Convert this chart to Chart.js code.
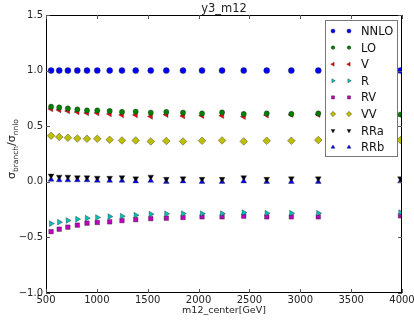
<!DOCTYPE html>
<html>
<head>
<meta charset="utf-8">
<script src="https://cdn.jsdelivr.net/npm/chart.js@4.4.0/dist/chart.umd.min.js"></script>
<style>
  body { margin: 0; background: #fff; }
  #wrap { width: 414px; height: 322px; position: relative; }
</style>
</head>
<body>
<div id="wrap"><canvas id="ratioChart"></canvas></div>
<script>
// m12 bin centres [GeV]
const m12 = [550, 630, 715, 808, 903, 1004, 1126, 1247, 1382, 1530, 1683, 1847, 2034, 2231, 2444, 2670, 2912, 3177, 3985];

// sigma_branch / sigma_nnlo per branch
const nnlo = [1, 1, 1, 1, 1, 1, 1, 1, 1, 1, 1, 1, 1, 1, 1, 1, 1, 1, 1];
const lo = [0.676, 0.669, 0.660, 0.651, 0.642, 0.642, 0.637, 0.628, 0.631, 0.622, 0.628, 0.622, 0.615, 0.624, 0.610, 0.615, 0.610, 0.615, 0.605];
const v = [0.655, 0.646, 0.637, 0.628, 0.619, 0.619, 0.610, 0.601, 0.601, 0.588, 0.604, 0.592, 0.595, 0.595, 0.586, 0.600, 0.604, 0.604, 0.600];
const r = [-0.376, -0.363, -0.348, -0.336, -0.327, -0.321, -0.313, -0.309, -0.300, -0.291, -0.288, -0.286, -0.286, -0.286, -0.277, -0.282, -0.282, -0.282, -0.277];
const rv = [-0.448, -0.426, -0.408, -0.390, -0.372, -0.366, -0.360, -0.349, -0.340, -0.331, -0.327, -0.321, -0.315, -0.315, -0.309, -0.315, -0.315, -0.315, -0.306];
const vv = [0.414, 0.403, 0.396, 0.390, 0.387, 0.387, 0.378, 0.372, 0.372, 0.363, 0.367, 0.363, 0.369, 0.372, 0.363, 0.369, 0.369, 0.375, 0.375];
const rra = [0.055, 0.045, 0.045, 0.040, 0.040, 0.035, 0.035, 0.040, 0.030, 0.045, 0.025, 0.030, 0.025, 0.025, 0.040, 0.025, 0.030, 0.030, 0.030];
const rrb = [0.020, 0.015, 0.015, 0.015, 0.015, 0.010, 0.010, 0.010, 0.005, 0.010, 0.000, 0.005, 0.000, 0.000, 0.005, 0.000, 0.000, 0.000, 0.005];

const xTicks = [500, 1000, 1500, 2000, 2500, 3000, 3500, 4000];
const yTicks = [-1.0, -0.5, 0.0, 0.5, 1.0, 1.5];

function pts(vals) {
  return vals.map((y, i) => ({ x: m12[i], y: y }));
}

function series(label, vals, color, style, radius, rotation) {
  return {
    label: label,
    data: pts(vals),
    backgroundColor: color,
    borderColor: 'rgba(40,40,40,0.8)',
    borderWidth: 0.5,
    pointStyle: style,
    pointRadius: radius,
    pointHoverRadius: radius,
    pointRotation: rotation || 0,
    showLine: false
  };
}

const FONT = "'DejaVu Sans', sans-serif";

// frame, inward ticks, titles and the two-marker legend
const decorPlugin = {
  id: 'decor',
  afterDraw(chart) {
    const c = chart.ctx;
    const a = chart.chartArea;
    const xs = chart.scales.x;
    const ys = chart.scales.y;
    c.save();
    c.strokeStyle = '#000';
    c.lineWidth = 1;
    c.strokeRect(a.left + 0.5, a.top + 0.5, a.right - a.left - 1, a.bottom - a.top - 1);

    c.strokeStyle = '#555';
    c.beginPath();
    xTicks.forEach(t => {
      const px = Math.round(xs.getPixelForValue(t)) + 0.5;
      c.moveTo(px, a.bottom); c.lineTo(px, a.bottom - 4);
      c.moveTo(px, a.top); c.lineTo(px, a.top + 4);
    });
    yTicks.forEach(t => {
      const py = Math.round(ys.getPixelForValue(t)) + 0.5;
      c.moveTo(a.left, py); c.lineTo(a.left + 4, py);
      c.moveTo(a.right, py); c.lineTo(a.right - 4, py);
    });
    c.stroke();

    // title
    c.fillStyle = '#222';
    c.textAlign = 'center';
    c.textBaseline = 'alphabetic';
    c.font = '11.5px ' + FONT;
    c.fillText('y3_m12', (a.left + a.right) / 2, 12);

    // x title
    c.font = '9.5px ' + FONT;
    c.fillText('m12_center[GeV]', (a.left + a.right) / 2, 313);

    // y title with subscripts
    const parts = [
      ['σ', 11, 0], ['branch', 7.5, 3], ['/σ', 11, 0], ['nnlo', 7.5, 3]
    ];
    let total = 0;
    parts.forEach(p => { c.font = p[1] + 'px ' + FONT; total += c.measureText(p[0]).width; });
    c.translate(15, 149);
    c.rotate(-Math.PI / 2);
    c.textAlign = 'left';
    let x0 = -total / 2;
    parts.forEach(p => {
      c.font = p[1] + 'px ' + FONT;
      c.fillText(p[0], x0, p[2]);
      x0 += c.measureText(p[0]).width;
    });
    c.setTransform(1, 0, 0, 1, 0, 0);

    // legend box
    const bx = 325, by = 20, bw = 72, bh = 136;
    c.fillStyle = '#fff';
    c.fillRect(bx, by, bw, bh);
    c.strokeStyle = '#777';
    c.strokeRect(bx + 0.5, by + 0.5, bw, bh);
    chart.data.datasets.forEach((ds, i) => {
      const ly = by + 11 + i * 16.6;
      [333, 349].forEach(mx => {
        c.fillStyle = ds.backgroundColor;
        c.strokeStyle = ds.borderColor;
        c.lineWidth = ds.borderWidth;
        Chart.helpers.drawPoint(c, {
          pointStyle: ds.pointStyle,
          rotation: ds.pointRotation,
          radius: ds.pointRadius * 0.7,
          borderWidth: ds.borderWidth
        }, mx, ly);
      });
      c.fillStyle = '#111';
      c.font = '11.5px ' + FONT;
      c.textAlign = 'left';
      c.textBaseline = 'middle';
      c.fillText(ds.label, 361, ly + 1);
    });
    c.restore();
  }
};

new Chart(document.getElementById('ratioChart'), {
  type: 'scatter',
  data: {
    datasets: [
      series('NNLO', nnlo, '#0000ff', 'circle', 3),
      series('LO', lo, '#008000', 'circle', 2.6),
      series('V', v, '#ff0000', 'triangle', 3.3, 270),
      series('R', r, '#00bfbf', 'triangle', 3.3, 90),
      series('RV', rv, '#bf00bf', 'rect', 3.2),
      series('VV', vv, '#bfbf00', 'rectRot', 3.8),
      series('RRa', rra, '#000000', 'triangle', 3.3, 180),
      series('RRb', rrb, '#0000ff', 'triangle', 3.3)
    ]
  },
  options: {
    responsive: true,
    maintainAspectRatio: false,
    animation: false,
    layout: { padding: { left: 0, right: 12, top: 15, bottom: 0 } },
    plugins: {
      legend: { display: false },
      tooltip: { enabled: false },
      title: { display: false }
    },
    scales: {
      x: {
        type: 'linear',
        min: 500,
        max: 4000,
        afterFit: (s) => { s.height = 29; s.paddingLeft = 0; s.paddingRight = 0; },
        afterBuildTicks: (s) => { s.ticks = xTicks.map(t => ({ value: t })); },
        grid: { display: false, drawTicks: false },
        border: { display: false },
        ticks: {
          padding: 1,
          color: '#222',
          font: { family: FONT, size: 10 },
          maxRotation: 0,
          callback: (val) => String(val)
        }
      },
      y: {
        min: -1,
        max: 1.5,
        afterFit: (s) => { s.width = 46; s.paddingTop = 0; s.paddingBottom = 0; },
        afterBuildTicks: (s) => { s.ticks = yTicks.map(t => ({ value: t })); },
        grid: { display: false, drawTicks: false },
        border: { display: false },
        ticks: {
          padding: 3,
          color: '#222',
          font: { family: FONT, size: 10 },
          callback: (val) => val.toFixed(1).replace('-', '\u2212')
        }
      }
    }
  },
  plugins: [decorPlugin]
});
</script>
</body>
</html>
